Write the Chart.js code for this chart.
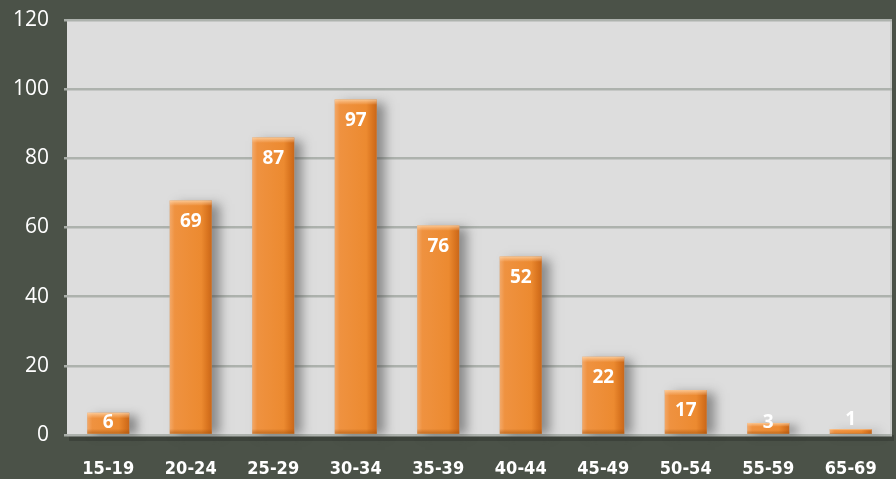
<!DOCTYPE html>
<html><head><meta charset="utf-8">
<script src="https://cdn.jsdelivr.net/npm/chart.js@4/dist/chart.umd.min.js"></script>
<style>html,body{margin:0;padding:0;background:#4b5248;}#wrap{width:896px;height:479px;}</style>
</head><body><div id="wrap"><canvas id="c" width="896" height="479"></canvas></div>
<script>
const categories = ['15-19','20-24','25-29','30-34','35-39','40-44','45-49','50-54','55-59','65-69'];
const barValues = [6.4, 67.8, 86, 97, 60.6, 51.6, 22.6, 13, 3.5, 1.7];
const labelValues = ['6','69','87','97','76','52','22','17','3','1'];
const yTicks = [0,20,40,60,80,100,120];

const bgPlugin = {
  id:'bg',
  beforeDraw(chart){
    const {ctx, chartArea:a} = chart;
    ctx.save();
    ctx.fillStyle='#4b5248';
    ctx.fillRect(0,0,chart.width,chart.height);
    ctx.fillStyle='rgba(0,0,0,0.18)';
    ctx.fillRect(a.left+2, a.bottom, a.right-a.left, 6);
    ctx.fillStyle='#dddddd';
    ctx.fillRect(a.left, a.top, a.right-a.left, a.bottom-a.top);
    ctx.fillStyle='#c9cbc9';
    ctx.fillRect(a.right-2, a.top, 2, a.bottom-a.top);
    ctx.restore();
  },
  beforeDatasetsDraw(chart){
    const {ctx} = chart;
    const meta = chart.getDatasetMeta(0);
    ctx.save();
    meta.data.forEach(b=>{
      const w=b.width, x=b.x-w/2, y=b.y, h=b.base-b.y;
      ctx.shadowColor='rgba(60,60,60,0.5)';
      ctx.shadowBlur=10; ctx.shadowOffsetX=8; ctx.shadowOffsetY=3;
      ctx.fillStyle='#b8bab8';
      ctx.fillRect(x,y,w,h-2);
    });
    ctx.restore();
  },
  afterDatasetsDraw(chart){
    const {ctx} = chart;
    const meta = chart.getDatasetMeta(0);
    ctx.save();
    meta.data.forEach((b,i)=>{
      const w=b.width, x=b.x-w/2, y=b.y, h=b.base-b.y;
      const band=Math.min(5,h/3);
      let g=ctx.createLinearGradient(0,y,0,y+band);
      g.addColorStop(0,'rgba(255,220,180,0.75)');
      g.addColorStop(1,'rgba(255,200,150,0.1)');
      ctx.fillStyle=g; ctx.fillRect(x,y,w,band);
      let g2=ctx.createLinearGradient(0,y+h-band,0,y+h);
      g2.addColorStop(0,'rgba(160,80,10,0.0)');
      g2.addColorStop(1,'rgba(160,80,10,0.55)');
      ctx.fillStyle=g2; ctx.fillRect(x,y+h-band,w,band);
      ctx.fillStyle='#ffffff';
      ctx.font="bold 19px 'Open Sans', 'DejaVu Sans', sans-serif";
      ctx.textAlign='center'; ctx.textBaseline='middle';
      let ly = Math.min(y+21, b.base-11);
      if (h < 7) ly = y - 10;
      ctx.fillText(labelValues[i], b.x, ly);
    });
    ctx.restore();
  }
};

new Chart(document.getElementById('c'), {
  type:'bar',
  data:{ labels:categories, datasets:[{
    data:barValues,
    backgroundColor(c){
      const chart=c.chart, a=chart.chartArea, xs=chart.scales.x;
      if(!a || !xs) return '#ee8c32';
      const cx=xs.getPixelForValue(c.dataIndex);
      const w=(a.right-a.left)/categories.length*0.51;
      const x=cx-w/2;
      if(!isFinite(x) || !isFinite(w)) return '#ee8c32';
      const g=chart.ctx.createLinearGradient(x,0,x+w,0);
      g.addColorStop(0,'#f3a868');
      g.addColorStop(0.12,'#ef9240');
      g.addColorStop(0.75,'#ec8a30');
      g.addColorStop(0.9,'#d9741f');
      g.addColorStop(1,'#c9671a');
      return g;
    },
    borderWidth:0,
    categoryPercentage:0.51, barPercentage:1.0
  }]},
  options:{
    responsive:false, animation:false,
    layout:{padding:{top:20,right:4,left:0,bottom:0}},
    plugins:{legend:{display:false}, tooltip:{enabled:false}},
    scales:{
      x:{
        grid:{display:false},
        border:{display:false},
        ticks:{color:'#ffffff', padding:16, font:{family:"'Liberation Sans Narrow','DejaVu Sans Condensed','Open Sans',sans-serif", size:18, weight:'bold'}, maxRotation:0},
        afterFit(s){ s.height=44; }
      },
      y:{
        min:0, max:120,
        afterBuildTicks(s){ s.ticks = yTicks.map(v=>({value:v})); },
        grid:{color:'#adb2ad', lineWidth:2.5, tickLength:3, tickColor:'#a9aea9'},
        border:{display:false},
        ticks:{color:'#ffffff', padding:15, font:{family:"'Open Sans', Lato, sans-serif", size:21, weight:400}},
        afterFit(s){ s.width=67; s.paddingTop=0; s.paddingBottom=0; }
      }
    }
  },
  plugins:[bgPlugin]
});
</script></body></html>
